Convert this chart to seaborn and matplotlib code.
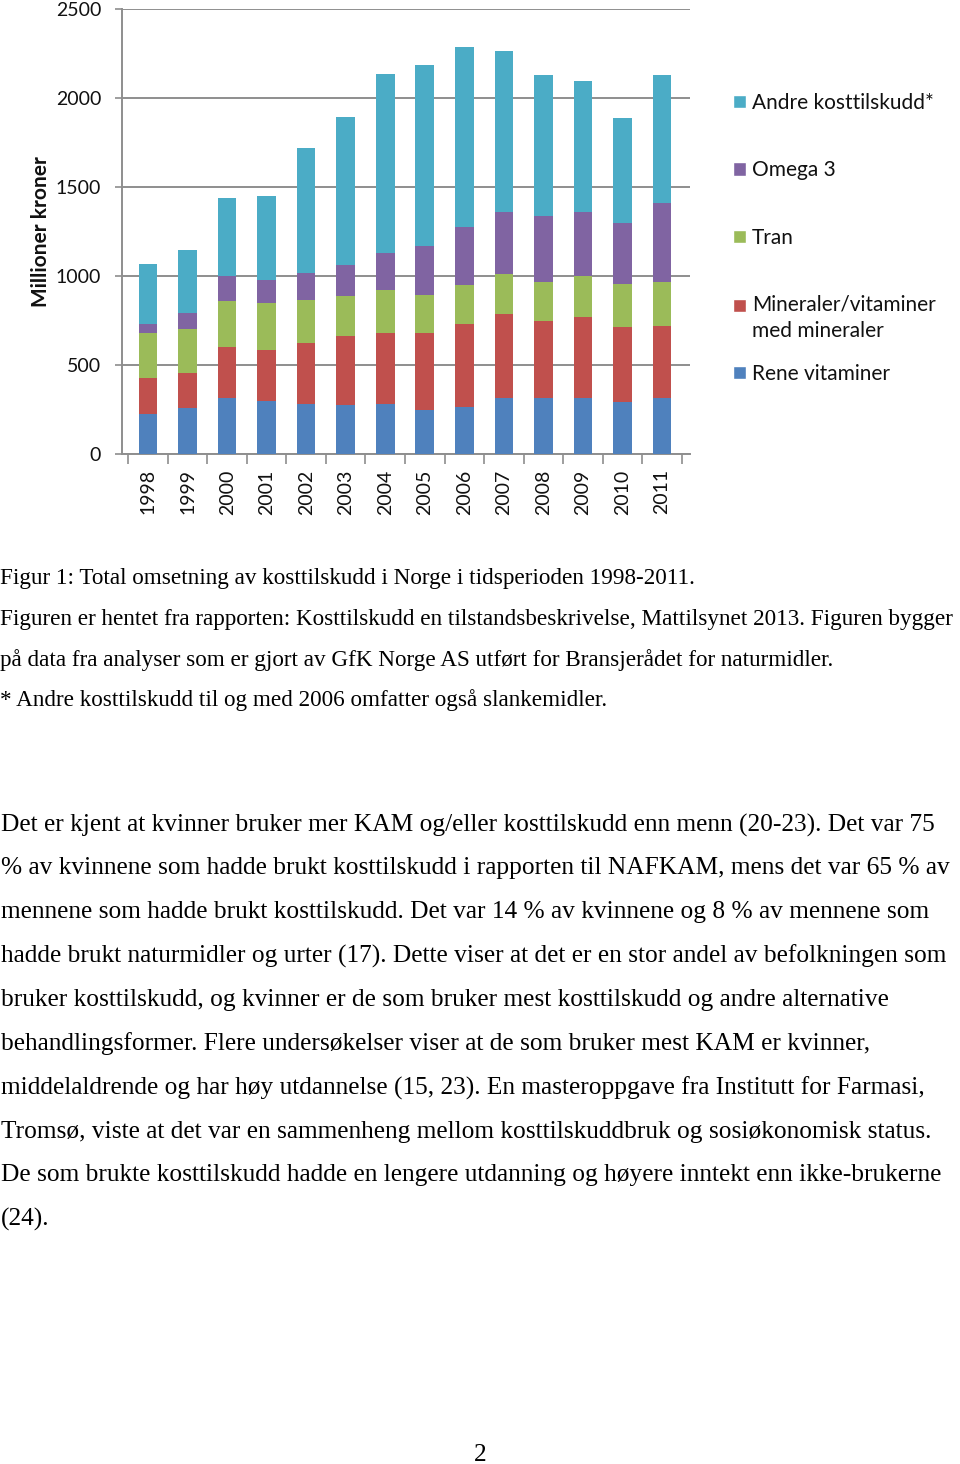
import numpy as np
import pandas as pd
import matplotlib
matplotlib.use("Agg")
import matplotlib.pyplot as plt
import seaborn as sns
from matplotlib.patches import Patch

# ---------------- data ----------------
years = [str(y) for y in range(1998, 2012)]
rene = [226, 257, 316, 298, 279, 275, 279, 245, 264, 313, 313, 316, 294, 316]
mineraler = [203, 198, 285, 286, 346, 388, 402, 436, 468, 472, 434, 454, 419, 401]
tran = [252, 245, 259, 266, 240, 225, 239, 212, 217, 228, 219, 228, 244, 249]
omega3 = [51, 94, 140, 126, 154, 172, 208, 276, 328, 348, 369, 363, 343, 442]
andre = [334, 350, 436, 473, 698, 835, 1005, 1015, 1011, 903, 794, 735, 590, 721]

series_labels = ["Rene vitaminer", "Mineraler/vitaminer\nmed mineraler", "Tran",
                 "Omega 3", "Andre kosttilskudd*"]
series_colors = ["#4F81BD", "#C0504D", "#9BBB59", "#8064A2", "#4BACC6"]
y_ticks = [0, 500, 1000, 1500, 2000, 2500]
y_label = "Millioner kroner"

caption_lines = [
    "Figur 1: Total omsetning av kosttilskudd i Norge i tidsperioden 1998-2011.",
    "Figuren er hentet fra rapporten: Kosttilskudd en tilstandsbeskrivelse, Mattilsynet 2013. Figuren bygger",
    "på data fra analyser som er gjort av GfK Norge AS utført for Bransjerådet for naturmidler.",
    "* Andre kosttilskudd til og med 2006 omfatter også slankemidler.",
]
body_lines = [
    "Det er kjent at kvinner bruker mer KAM og/eller kosttilskudd enn menn (20-23). Det var 75",
    "% av kvinnene som hadde brukt kosttilskudd i rapporten til NAFKAM, mens det var 65 % av",
    "mennene som hadde brukt kosttilskudd. Det var 14 % av kvinnene og 8 % av mennene som",
    "hadde brukt naturmidler og urter (17). Dette viser at det er en stor andel av befolkningen som",
    "bruker kosttilskudd, og kvinner er de som bruker mest kosttilskudd og andre alternative",
    "behandlingsformer. Flere undersøkelser viser at de som bruker mest KAM er kvinner,",
    "middelaldrende og har høy utdannelse (15, 23). En masteroppgave fra Institutt for Farmasi,",
    "Tromsø, viste at det var en sammenheng mellom kosttilskuddbruk og sosiøkonomisk status.",
    "De som brukte kosttilskudd hadde en lengere utdanning og høyere inntekt enn ikke-brukerne",
    "(24).",
]
page_number = "2"

# ---------------- figure ----------------
sns.set_theme(style="white")
plt.rcParams['font.family'] = ['Lato', 'DejaVu Sans']

W, H = 960, 1464
fig = plt.figure(figsize=(W / 100, H / 100), dpi=100)


def fx(px):
    return px / W


def fy(py):
    return 1 - py / H


ax = fig.add_axes([fx(122), fy(454), (690 - 122) / W, (454 - 9) / H])

stack = np.cumsum(np.array([rene, mineraler, tran, omega3, andre], dtype=float), axis=0)
for i in range(len(series_labels) - 1, -1, -1):
    sns.barplot(x=years, y=stack[i], color=series_colors[i], saturation=1,
                width=0.47, ax=ax, zorder=3, linewidth=0, errorbar=None)

ax.set_xlim(-0.66, 13.71)
ax.set_ylim(0, 2500)
ax.set_yticks(y_ticks)
ax.set_yticklabels([str(v) for v in y_ticks])
ax.yaxis.grid(True, color="#8e8e8e", lw=1.4, zorder=0)
ax.xaxis.grid(False)
ax.set_axisbelow(True)

for s in ["top", "right"]:
    ax.spines[s].set_visible(False)
for s in ["left", "bottom"]:
    ax.spines[s].set_color("#8e8e8e")
    ax.spines[s].set_linewidth(1.4)

ax.tick_params(axis="y", which="major", left=True, length=5, width=1.2, color="#8e8e8e",
               labelsize=14, labelcolor="#111111", pad=10)
ax.tick_params(axis="x", which="major", bottom=False, labelsize=14, labelcolor="#111111",
               labelrotation=90, pad=5)
ax.set_xticks(np.arange(-0.5, 14, 1), minor=True)
ax.tick_params(axis="x", which="minor", bottom=True, length=7, width=1.2, color="#8e8e8e")

ax.set_xlabel("")
ax.set_ylabel(y_label, fontsize=15, fontweight="bold", color="#111111")
ax.yaxis.set_label_coords(-0.125, 0.5)

# legend
order = [4, 3, 2, 1]
handles1 = [Patch(facecolor=series_colors[i], label=series_labels[i]) for i in order]
leg1 = fig.legend(handles=handles1, loc="upper left", bbox_to_anchor=(fx(733), fy(93)),
                  frameon=False, prop={"family": "Lato", "size": 15},
                  handlelength=0.6, handleheight=0.6, handletextpad=0.3,
                  labelspacing=2.27, borderaxespad=0, borderpad=0)
for t in leg1.get_texts():
    t.set_color("#111111")
    t.set_linespacing(1.38)
# put the marker of the two-line entry next to its first line
two_line = leg1.legend_handles[3]
two_line.set_y(two_line.get_y() + 9.5)

handles2 = [Patch(facecolor=series_colors[0], label=series_labels[0])]
leg2 = fig.legend(handles=handles2, loc="upper left", bbox_to_anchor=(fx(733), fy(364)),
                  frameon=False, prop={"family": "Lato", "size": 15},
                  handlelength=0.6, handleheight=0.6, handletextpad=0.3,
                  borderaxespad=0, borderpad=0)
for t in leg2.get_texts():
    t.set_color("#111111")

# document text
serif = ["Liberation Serif", "DejaVu Serif"]
for line, y in zip(caption_lines, [578, 620, 660, 700]):
    fig.text(fx(0.5), fy(y), line, family=serif, fontsize=16.7, color="black",
             ha="left", va="center")
body_y = [825, 868, 912, 956, 1000, 1044, 1088, 1132, 1175, 1219]
for line, y in zip(body_lines, body_y):
    fig.text(fx(1), fy(y), line, family=serif, fontsize=18.3, color="black",
             ha="left", va="center")
fig.text(fx(480), fy(1455), page_number, family=serif, fontsize=18.3, color="black",
         ha="center", va="center")

fig.savefig("out.png", dpi=100, facecolor="white")
